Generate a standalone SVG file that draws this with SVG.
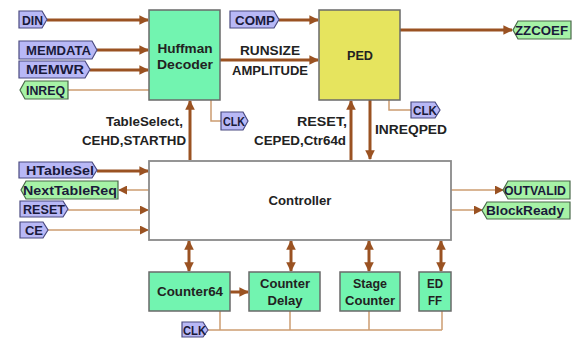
<svg xmlns="http://www.w3.org/2000/svg" width="582" height="338" viewBox="0 0 582 338">
<style>
.blk{fill:#72f4b0;stroke:#6a6a6a;stroke-width:1.5}
.ped{fill:#e6e45e;stroke:#6a6a6a;stroke-width:1.5}
.ctl{fill:#ffffff;stroke:#8a8a8a;stroke-width:1.8}
.pin{fill:#b8b8f6;stroke:#4a4a80;stroke-width:1.2}
.pout{fill:#a6f2a6;stroke:#4a6a4a;stroke-width:1.2}
.w{stroke:#9a5222;stroke-width:3;fill:none}
.t{stroke:#cc9c70;stroke-width:1.5;fill:none}
text{font-family:"Liberation Sans",Arial,sans-serif;font-weight:bold;font-size:13px;fill:#222}
.c{text-anchor:middle}
.r{text-anchor:end}
.pt{font-size:13px;fill:#1a1a3a}
</style>
<defs>
<marker id="ah" viewBox="0 0 10 10" refX="9" refY="5" markerWidth="3.2" markerHeight="3.2" orient="auto-start-reverse" markerUnits="strokeWidth">
<path d="M0,0 L10,5 L0,10 Z" fill="#9a5222"/>
</marker>
<marker id="ahs" viewBox="0 0 10 10" refX="9" refY="5" markerWidth="6" markerHeight="6" orient="auto-start-reverse" markerUnits="strokeWidth">
<path d="M0,0 L10,5 L0,10 Z" fill="#9a5222"/>
</marker>
</defs>

<g id="connectors">
<line class="w" x1="47" y1="20" x2="148" y2="20" marker-end="url(#ah)"/>
<line class="w" x1="97" y1="50" x2="148" y2="50" marker-end="url(#ah)"/>
<line class="w" x1="90" y1="70" x2="148" y2="70" marker-end="url(#ah)"/>
<line class="t" x1="68" y1="90" x2="149" y2="90"/>
<line class="w" x1="279" y1="20" x2="318" y2="20" marker-end="url(#ah)"/>
<line class="w" x1="220" y1="60" x2="318" y2="60" marker-end="url(#ah)"/>
<line class="w" x1="400" y1="30" x2="512" y2="30" marker-end="url(#ah)"/>
<line class="w" x1="190" y1="160" x2="190" y2="101" marker-end="url(#ah)"/>
<polyline class="t" points="211,100 211,121 221,121"/>
<line class="w" x1="351" y1="160" x2="351" y2="101" marker-end="url(#ah)"/>
<line class="w" x1="370" y1="100" x2="370" y2="159" marker-end="url(#ah)"/>
<polyline class="t" points="389,100 389,110 411,110"/>
<line class="w" x1="97" y1="171" x2="148" y2="171" marker-end="url(#ah)"/>
<line class="t" x1="149" y1="190" x2="119" y2="190" marker-end="url(#ahs)"/>
<line class="t" x1="68" y1="210" x2="148" y2="210" marker-end="url(#ahs)"/>
<line class="t" x1="48" y1="230" x2="148" y2="230" marker-end="url(#ahs)"/>
<line class="t" x1="451" y1="190" x2="503" y2="190" marker-end="url(#ahs)"/>
<line class="t" x1="451" y1="210" x2="482" y2="210" marker-end="url(#ahs)"/>
<line class="w" x1="189" y1="241" x2="189" y2="271" marker-start="url(#ah)" marker-end="url(#ah)"/>
<line class="w" x1="291" y1="241" x2="291" y2="271" marker-start="url(#ah)" marker-end="url(#ah)"/>
<line class="w" x1="369" y1="241" x2="369" y2="271" marker-start="url(#ah)" marker-end="url(#ah)"/>
<line class="w" x1="441" y1="241" x2="441" y2="271" marker-start="url(#ah)" marker-end="url(#ah)"/>
<line class="w" x1="230" y1="292" x2="248" y2="292" marker-end="url(#ah)"/>
<polyline class="t" points="208,330 442,330"/>
<line class="t" x1="220" y1="311" x2="220" y2="330"/>
<line class="t" x1="290" y1="311" x2="290" y2="330"/>
<line class="t" x1="369" y1="311" x2="369" y2="330"/>
<line class="t" x1="442" y1="311" x2="442" y2="330"/>
</g>

<g id="huffman"><rect class="blk" x="149" y="10" width="71" height="90"/><text class="c" x="185" y="53" textLength="55" lengthAdjust="spacingAndGlyphs">Huffman</text><text class="c" x="185" y="69" textLength="56" lengthAdjust="spacingAndGlyphs">Decoder</text></g>
<g id="ped"><rect class="ped" x="319" y="10" width="81" height="90"/><text class="c" x="360" y="60" textLength="26" lengthAdjust="spacingAndGlyphs">PED</text></g>
<g id="controller"><rect class="ctl" x="149" y="161" width="302" height="79"/><text class="c" x="300" y="205" textLength="63" lengthAdjust="spacingAndGlyphs">Controller</text></g>
<g id="counter64"><rect class="blk" x="149" y="272" width="81" height="39"/><text class="c" x="190" y="296" textLength="66" lengthAdjust="spacingAndGlyphs">Counter64</text></g>
<g id="counterdelay"><rect class="blk" x="249" y="272" width="71" height="39"/><text class="c" x="285" y="288" textLength="50" lengthAdjust="spacingAndGlyphs">Counter</text><text class="c" x="285" y="305" textLength="35" lengthAdjust="spacingAndGlyphs">Delay</text></g>
<g id="stagecounter"><rect class="blk" x="340" y="272" width="60" height="39"/><text class="c" x="370" y="288" textLength="34" lengthAdjust="spacingAndGlyphs">Stage</text><text class="c" x="370" y="305" textLength="50" lengthAdjust="spacingAndGlyphs">Counter</text></g>
<g id="edff"><rect class="blk" x="419" y="272" width="32" height="39"/><text class="c" x="435" y="288" textLength="16" lengthAdjust="spacingAndGlyphs">ED</text><text class="c" x="435" y="305" textLength="14" lengthAdjust="spacingAndGlyphs">FF</text></g>

<g id="labels">
<text class="c" x="270" y="55" textLength="60" lengthAdjust="spacingAndGlyphs">RUNSIZE</text>
<text class="c" x="270" y="75" textLength="76" lengthAdjust="spacingAndGlyphs">AMPLITUDE</text>
<text x="106" y="126" textLength="77" lengthAdjust="spacingAndGlyphs">TableSelect,</text>
<text x="82" y="145" textLength="104" lengthAdjust="spacingAndGlyphs">CEHD,STARTHD</text>
<text x="297" y="126" textLength="50" lengthAdjust="spacingAndGlyphs">RESET,</text>
<text x="254" y="145" textLength="92" lengthAdjust="spacingAndGlyphs">CEPED,Ctr64d</text>
<text x="375" y="134" textLength="72" lengthAdjust="spacingAndGlyphs">INREQPED</text>
</g>

<g id="port-din"><path class="pin" d="M19,11 H42 L47,19.5 L42,28 H19 Z"/><text class="pt" x="22" y="25" textLength="21" lengthAdjust="spacingAndGlyphs">DIN</text></g>
<g id="port-memdata"><path class="pin" d="M19,41 H92 L97,50 L92,59 H19 Z"/><text class="pt" x="26" y="55" textLength="65" lengthAdjust="spacingAndGlyphs">MEMDATA</text></g>
<g id="port-memwr"><path class="pin" d="M19,61 H85 L90,69.5 L85,78 H19 Z"/><text class="pt" x="26" y="74" textLength="58" lengthAdjust="spacingAndGlyphs">MEMWR</text></g>
<g id="port-inreq"><path class="pout" d="M25,81 H68 V99 H25 L20,90 Z"/><text class="pt" x="26" y="95" textLength="39" lengthAdjust="spacingAndGlyphs">INREQ</text></g>
<g id="port-comp"><path class="pin" d="M230,11 H274 L279,19.5 L274,28 H230 Z"/><text class="pt" x="235" y="25" textLength="40" lengthAdjust="spacingAndGlyphs">COMP</text></g>
<g id="port-zzcoef"><path class="pout" d="M518,21 H571 V39 H518 L513,30 Z"/><text class="pt" x="515" y="35" textLength="53" lengthAdjust="spacingAndGlyphs">ZZCOEF</text></g>
<g id="port-clk1"><path class="pin" d="M221,112 H243 L248,121 L243,130 H221 Z"/><text class="pt" x="223" y="126" textLength="22" lengthAdjust="spacingAndGlyphs">CLK</text></g>
<g id="port-clk2"><path class="pin" d="M411,102 H435 L440,110 L435,118 H411 Z"/><text class="pt" x="413" y="115" textLength="24" lengthAdjust="spacingAndGlyphs">CLK</text></g>
<g id="port-htablesel"><path class="pin" d="M19,162 H92 L97,170 L92,178 H19 Z"/><text class="pt" x="26" y="175" textLength="68" lengthAdjust="spacingAndGlyphs">HTableSel</text></g>
<g id="port-nexttablereq"><path class="pout" d="M26,181 H118 V199 H26 L21,190 Z"/><text class="pt" x="23" y="195" textLength="94" lengthAdjust="spacingAndGlyphs">NextTableReq</text></g>
<g id="port-reset"><path class="pin" d="M20,201 H63 L68,209 L63,217 H20 Z"/><text class="pt" x="23" y="214" textLength="42" lengthAdjust="spacingAndGlyphs">RESET</text></g>
<g id="port-ce"><path class="pin" d="M20,222 H43 L48,230 L43,238 H20 Z"/><text class="pt" x="25" y="235" textLength="18" lengthAdjust="spacingAndGlyphs">CE</text></g>
<g id="port-outvalid"><path class="pout" d="M508,181 H570 V199 H508 L503,190 Z"/><text class="pt" x="504" y="195" textLength="62" lengthAdjust="spacingAndGlyphs">OUTVALID</text></g>
<g id="port-blockready"><path class="pout" d="M487,202 H570 V219 H487 L482,210.5 Z"/><text class="pt" x="486" y="215" textLength="78" lengthAdjust="spacingAndGlyphs">BlockReady</text></g>
<g id="port-clk3"><path class="pin" d="M182,322 H203 L208,330 L203,337 H182 Z"/><text class="pt" x="183" y="334.5" style="font-size:12px" textLength="23" lengthAdjust="spacingAndGlyphs">CLK</text></g>
</svg>
